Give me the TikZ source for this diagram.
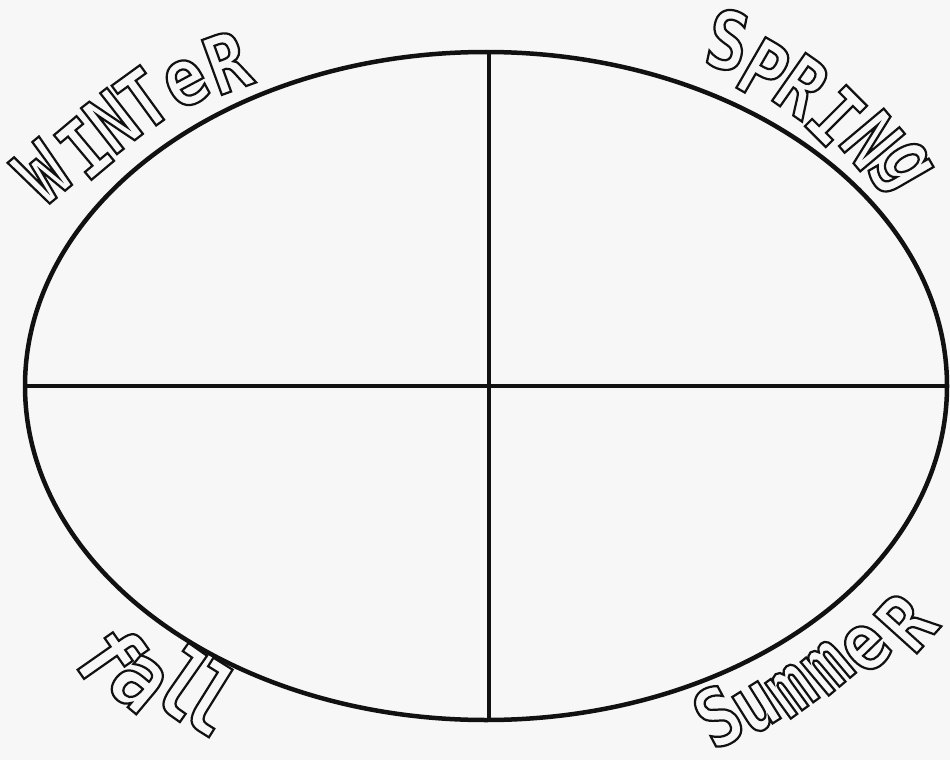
\documentclass[tikz,border=0pt]{standalone}
\usepackage{fontspec}
\usetikzlibrary{shapes.geometric}
\newfontfamily\decofont[FakeStretch=0.85]{DejaVu Sans Mono}
\definecolor{paper}{HTML}{F7F7F7}
\definecolor{ink}{HTML}{111111}
\tikzset{
  frame/.style={draw=ink, line width=4.5pt},
  letter/.style={font=\decofont\bfseries\fontsize{#1}{#1}\selectfont, text=ink,
    inner sep=0pt, anchor=center,
    execute at begin node={\special{pdf:literal direct 1 Tr 2.2 w}},
    execute at end node={\special{pdf:literal direct 0 Tr}}},
  letter/.default=80
}
\begin{document}
\begin{tikzpicture}[x=1pt,y=-1pt]
\fill[paper] (0,0) rectangle (950,760);
\useasboundingbox (0,0) rectangle (950,760);
% oval and cross
\node[frame, ellipse, minimum width=922pt, minimum height=668pt, inner sep=0pt, outer sep=0pt] (oval) at (486,386) {};
\draw[frame] ([xshift=3pt]oval.north) -- ([xshift=3pt]oval.south);
\draw[frame] (oval.west) -- (oval.east);
% WINTER
\node[letter, rotate=40] (w1) at (42,172) {W};
\node[letter, rotate=40] (w2) at (84,148) {I};
\node[letter, rotate=38] (w3) at (112,121) {N};
\node[letter, rotate=36] (w4) at (143,99) {T};
\node[letter, rotate=28] (w5) at (186,83) {e};
\node[letter, rotate=20] (w6) at (227,62) {R};
% SPRING
\node[letter, rotate=-12] (s1) at (728,40) {S};
\node[letter, rotate=-30] (s2) at (764,70) {P};
\node[letter, rotate=-35] (s3) at (802,86) {R};
\node[letter, rotate=-45] (s4) at (836,116) {I};
\node[letter, rotate=-50] (s5) at (872,140) {N};
\node[letter, rotate=-60] (s6) at (900,168) {g};
% fall
\node[letter=92, rotate=-55] (f1) at (110,655) {f};
\node[letter=92, rotate=-40] (f2) at (138,683) {a};
\node[letter=92, rotate=-35] (f3) at (185,683) {l};
\node[letter=92, rotate=-32] (f4) at (212,698) {l};
% Summer
\node[letter, rotate=28] (m1) at (718,716) {S};
\node[letter, rotate=32] (m2) at (757,708) {u};
\node[letter, rotate=36] (m3) at (792,690) {m};
\node[letter, rotate=40] (m4) at (828,667) {m};
\node[letter, rotate=44] (m5) at (866,648) {e};
\node[letter, rotate=48] (m6) at (906,622) {R};
\end{tikzpicture}
\end{document}
